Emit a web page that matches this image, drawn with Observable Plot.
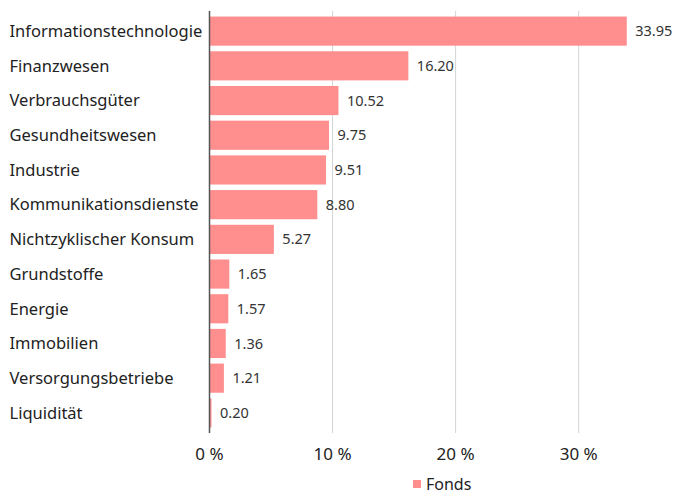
<!DOCTYPE html>
<html><head><meta charset="utf-8">
<script src="https://cdn.jsdelivr.net/npm/d3@7"></script>
<script src="https://cdn.jsdelivr.net/npm/@observablehq/plot@0.6"></script>
<style>
body{margin:0;background:#fff;font-family:"Noto Sans",sans-serif;}
#wrap{width:675px;}
#chart svg{display:block;}
#legend{margin-left:413px;padding-top:9px;font-size:16px;line-height:16px;color:#222;display:flex;align-items:center;}
#legend span.sw{display:inline-block;width:8px;height:8px;background:#ff8f8f;margin-right:5px;}
</style></head><body>
<div id="wrap"><div id="chart"></div><div id="legend"><span class="sw"></span>Fonds</div></div>
<script>
const categories = ["Informationstechnologie","Finanzwesen","Verbrauchsgüter","Gesundheitswesen","Industrie","Kommunikationsdienste","Nichtzyklischer Konsum","Grundstoffe","Energie","Immobilien","Versorgungsbetriebe","Liquidität"];
const values = [33.95,16.20,10.52,9.75,9.51,8.80,5.27,1.65,1.57,1.36,1.21,0.20];
const xTicks = [0,10,20,30];
const data = categories.map((c,i)=>({name:c,value:values[i]}));
const color = "#ff8f8f";
const chart = Plot.plot({
  width: 675, height: 467,
  marginLeft: 209, marginRight: 23, marginTop: 11, marginBottom: 34,
  style: {fontFamily: '"Noto Sans", sans-serif', fontSize: "16px", color: "#222"},
  x: {domain: [0, 36], ticks: xTicks, tickFormat: d => d + " %", label: null},
  y: {domain: categories, padding: 0.16, round: false, label: null, axis: null},
  marks: [
    Plot.ruleX(xTicks.slice(1), {stroke: "#d4d4d4", strokeWidth: 1}),
    Plot.barX(data, {y: "name", x: "value", fill: color}),
    Plot.ruleX([0], {stroke: "#555", strokeWidth: 1.5}),
    Plot.axisX({ticks: xTicks, tickFormat: d => d + " %", tickSize: 0, tickPadding: 14, fontSize: 17, label: null}),
    Plot.text(data, {y: "name", text: "name", frameAnchor: "left", dx: -200, textAnchor: "start", fontSize: 16.5, fill: "#222"}),
    Plot.text(data, {y: "name", x: "value", text: d => d.value.toFixed(2), textAnchor: "start", dx: 8, fontSize: 14.5, fill: "#333"})
  ]
});
document.getElementById("chart").appendChild(chart);
</script></body></html>
